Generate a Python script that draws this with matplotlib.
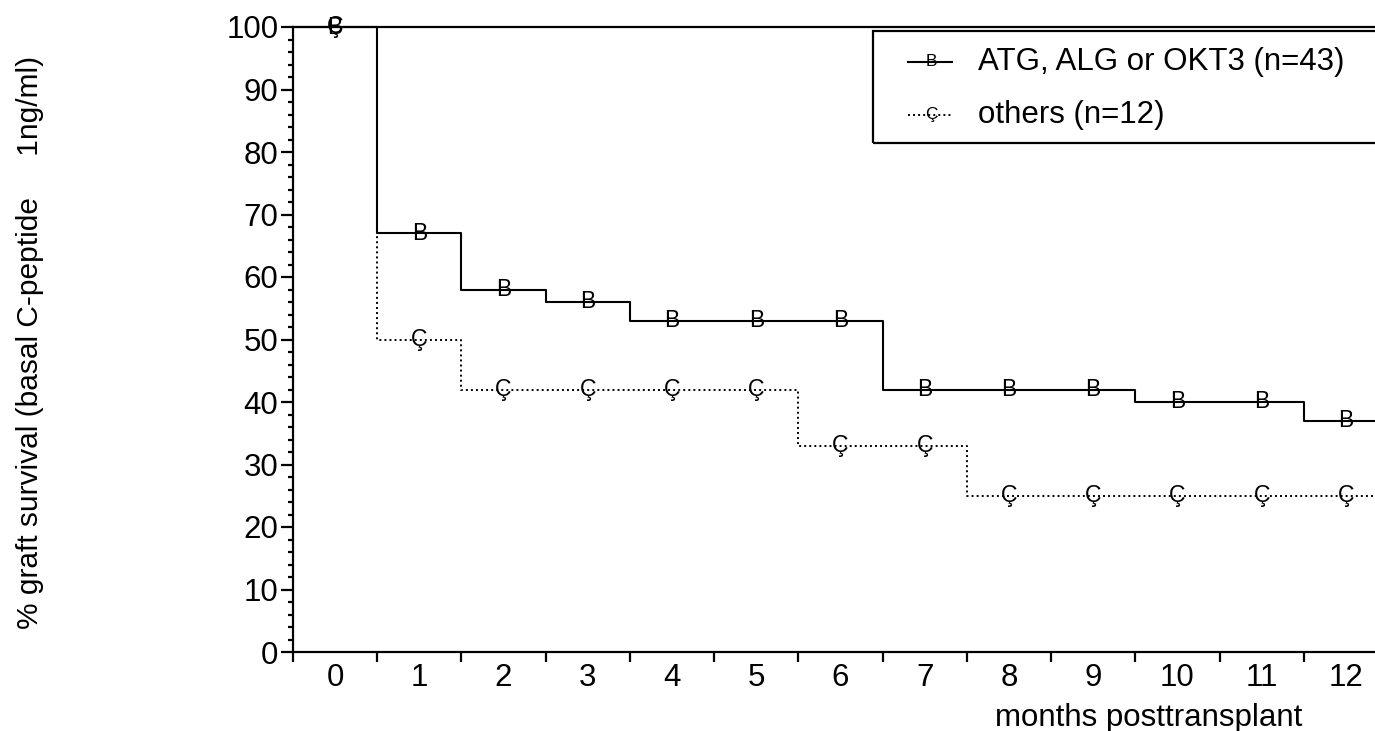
import numpy as np
import matplotlib
matplotlib.use("Agg")
import matplotlib.pyplot as plt
from matplotlib.patches import Rectangle
from matplotlib.lines import Line2D

plt.rcParams['font.family'] = ['Liberation Sans', 'DejaVu Sans']

months = list(range(13))
atg = [100, 67, 58, 56, 53, 53, 53, 42, 42, 42, 40, 40, 37]
others = [100, 50, 42, 42, 42, 42, 33, 33, 25, 25, 25, 25, 25]
labels = ["ATG, ALG or OKT3 (n=43)", "others (n=12)"]
marks = ["B", "Ç"]

fig = plt.figure(figsize=(13.75, 7.31), dpi=100)
ax = fig.add_axes([293/1375, 1-652/731, (1388-293)/1375, (652-27)/731])
ax.set_xlim(-0.5, 12.5)
ax.set_ylim(0, 100)

def step_line(vals, **kw):
    xs = np.r_[-0.5, np.arange(len(vals)) + 0.5]
    ys = np.r_[vals, vals[-1]]
    ax.step(xs, ys, where='post', **kw)

step_line(atg, color='black', lw=1.5, clip_on=False)
step_line(others, color='black', lw=1.4, linestyle=(0, (1, 1.6)), clip_on=False)

for x, y in zip(months, atg):
    ax.text(x, y, marks[0], ha='center', va='center', fontsize=16.5, color='black')
for x, y in zip(months, others):
    ax.text(x, y, marks[1], ha='center', va='center', fontsize=16.5, color='black')

for s in ['left', 'bottom', 'top', 'right']:
    ax.spines[s].set_linewidth(1.6)

ax.set_xticks(months)
ax.set_xticklabels([str(m) for m in months], fontsize=22.5)
ax.set_xticks(np.arange(-0.5, 12.6, 1), minor=True)
ax.tick_params(axis='x', which='major', length=0, pad=8)
ax.tick_params(axis='x', which='minor', length=7, width=1.6, direction='out')

ax.set_yticks(range(0, 101, 10))
ax.set_yticklabels([str(v) for v in range(0, 101, 10)], fontsize=22.5)
ax.set_yticks(range(0, 101, 2), minor=True)
ax.tick_params(axis='y', which='major', length=8.6, width=1.6, pad=2)
ax.tick_params(axis='y', which='minor', length=3.6, width=1.6)

fig.text(995/1375, 1-726/731, "months posttransplant", ha='left', va='baseline', fontsize=22.5)
fig.text(30/1375, 1-342/731, "% graft survival (basal C-peptide     1ng/ml)",
         rotation=90, ha='center', va='center', fontsize=21.5)

# legend box
x0, y0 = 873/1375, 1-143/731
fig.patches.append(Rectangle((x0, y0), 0.5, (143-31)/731, transform=fig.transFigure,
                             fill=False, edgecolor='black', lw=1.6))
rows = [62, 115]
styles = [dict(lw=1.5, linestyle='-'), dict(lw=1.4, linestyle=(0, (1, 1.6)))]
for i in range(2):
    yy = 1 - rows[i]/731
    fig.lines.append(Line2D([908/1375, 952/1375], [yy, yy], transform=fig.transFigure,
                            color='black', **styles[i]))
    fig.text(931/1375, yy, marks[i], ha='center', va='center', fontsize=12.5)
    fig.text(978/1375, yy, labels[i], ha='left', va='center', fontsize=22.5)

fig.savefig("out.png", dpi=100)
